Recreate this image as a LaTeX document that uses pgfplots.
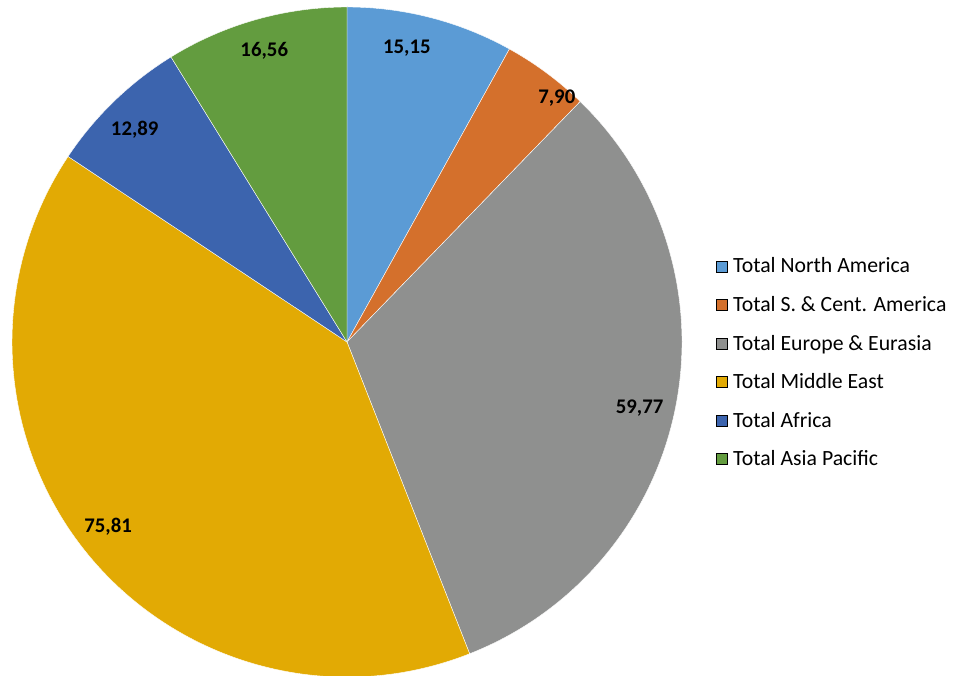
\documentclass[border=0pt]{standalone}
\usepackage{pgfplots}
\usepackage{pgfplotstable}
\pgfplotsset{compat=1.18}
\usepackage{fontspec}
\setmainfont{Carlito}
\definecolor{cNA}{HTML}{5B9BD5}
\definecolor{cSCA}{HTML}{D4702C}
\definecolor{cEU}{HTML}{8F908F}
\definecolor{cME}{HTML}{E2AA04}
\definecolor{cAF}{HTML}{3C64AE}
\definecolor{cAP}{HTML}{639C3F}
% value, slice colour, label radius (px), label angle shift (deg, clockwise)
\pgfplotstableread{
value col  lr  da
15.15 cNA  300 -3.0
7.90  cSCA 322 4.1
59.77 cEU  300 1.4
75.81 cME  302 1.2
12.89 cAF  300 -1.0
16.56 cAP  303 0.0
}\piedata
\begin{document}
\begin{tikzpicture}
\begin{axis}[
  width=717pt, height=506.25pt, scale only axis,
  xmin=0, xmax=956, ymin=0, ymax=675,
  hide axis, clip=false,
  legend style={at={(axis cs:716,419)}, anchor=north west, draw=none, fill=none,
    font=\fontsize{16.3}{19}\selectfont, row sep=13.7pt, inner sep=0pt,
    nodes={inner sep=1.2pt, anchor=west},
    /tikz/every odd column/.append style={column sep=2.8pt}},
  legend cell align=left,
  legend image code/.code={\fill[#1] (0pt,-4.1pt) rectangle (8.3pt,4.1pt);},
]
\pgfmathsetmacro\total{0}
\pgfplotsforeachungrouped \i in {0,...,5}{%
  \pgfplotstablegetelem{\i}{value}\of\piedata
  \pgfmathsetmacro\total{\total+\pgfplotsretval}}
\pgfmathsetmacro\fac{360/\total}
\pgfmathsetmacro\cum{0}
\pgfplotsforeachungrouped \i in {0,...,5}{%
  \pgfplotstablegetelem{\i}{value}\of\piedata \let\v\pgfplotsretval
  \pgfplotstablegetelem{\i}{col}\of\piedata \let\c\pgfplotsretval
  \pgfplotstablegetelem{\i}{lr}\of\piedata \let\lr\pgfplotsretval
  \pgfplotstablegetelem{\i}{da}\of\piedata \let\da\pgfplotsretval
  \pgfmathsetmacro\a{90-\cum*\fac}%
  \pgfmathsetmacro\cum{\cum+\v}%
  \pgfmathsetmacro\b{90-\cum*\fac}%
  \pgfmathsetmacro\m{(\a+\b)/2-\da}%
  \pgfmathsetmacro\sx{347+335*cos(\a)}%
  \pgfmathsetmacro\sy{333+335*sin(\a)}%
  \pgfmathsetmacro\lx{347+\lr*cos(\m)}%
  \pgfmathsetmacro\ly{333+\lr*sin(\m)}%
  \edef\temp{%
    \noexpand\fill[fill=\c, draw=white, line width=0.3pt] (axis cs:347,333) -- (axis cs:\sx,\sy) arc[start angle=\a, end angle=\b, radius=335] -- cycle;
    \noexpand\node[font=\noexpand\fontsize{15.6}{18}\noexpand\selectfont\noexpand\bfseries] at (axis cs:\lx,\ly) {\noexpand\pgfmathprintnumber[assume math mode=true, use comma, fixed, fixed zerofill, precision=2]{\v}};
  }%
  \temp
}
\addlegendimage{fill=cNA}\addlegendentry{Total North America}
\addlegendimage{fill=cSCA}\addlegendentry{Total S. \& Cent. America}
\addlegendimage{fill=cEU}\addlegendentry{Total Europe \& Eurasia}
\addlegendimage{fill=cME}\addlegendentry{Total Middle East}
\addlegendimage{fill=cAF}\addlegendentry{Total Africa}
\addlegendimage{fill=cAP}\addlegendentry{Total Asia Pacific}
\end{axis}
\pgfresetboundingbox
\path (current axis.south west) rectangle (current axis.north east);
\end{tikzpicture}
\end{document}
